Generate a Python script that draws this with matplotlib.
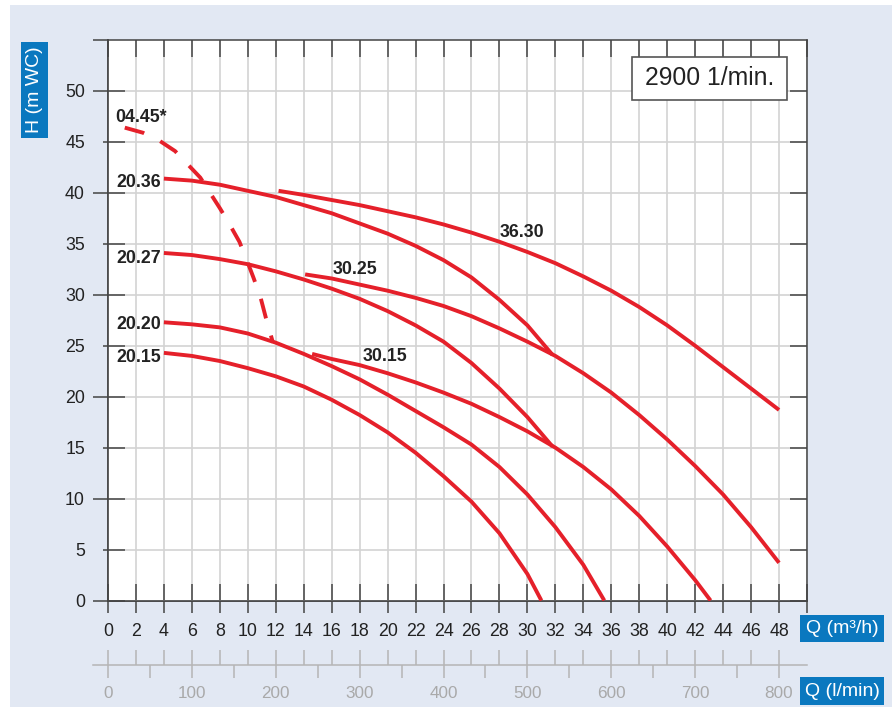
import numpy as np
import matplotlib
matplotlib.use('Agg')
import matplotlib.pyplot as plt
from matplotlib import font_manager
from matplotlib.patches import Rectangle
from matplotlib.ticker import FixedLocator, FuncFormatter

# ---------------- data (Q in m3/h, H in m WC) ----------------
q_0445 = [1.2, 2.5, 3.7, 4.8, 5.7, 6.6, 7.3, 8.0, 8.7, 9.4, 9.9, 10.4, 10.9, 11.3, 11.8]
h_0445 = [46.4, 45.9, 45.1, 44.1, 42.8, 41.5, 40.0, 38.5, 36.9, 35.2, 33.5, 31.7, 29.8, 27.7, 25.3]

q_2036 = [4, 6, 8, 10, 12, 14, 16, 18, 20, 22, 24, 26, 28, 30, 31.8]
h_2036 = [41.4, 41.2, 40.8, 40.2, 39.6, 38.8, 38.0, 37.0, 36.0, 34.8, 33.4, 31.7, 29.5, 27.0, 24.1]

q_2027 = [4, 6, 8, 10, 12, 14, 16, 18, 20, 22, 24, 26, 28, 30, 31.8]
h_2027 = [34.1, 33.9, 33.5, 33.0, 32.3, 31.5, 30.6, 29.6, 28.4, 27.0, 25.4, 23.3, 20.8, 18.0, 15.1]

q_2020 = [4, 6, 8, 10, 12, 14, 16, 18, 20, 22, 24, 26, 28, 30, 32, 34, 35.5]
h_2020 = [27.3, 27.1, 26.8, 26.2, 25.3, 24.2, 23.0, 21.7, 20.2, 18.6, 17.0, 15.3, 13.1, 10.4, 7.2, 3.5, 0.0]

q_2015 = [4, 6, 8, 10, 12, 14, 16, 18, 20, 22, 24, 26, 28, 30, 31.0]
h_2015 = [24.3, 24.0, 23.5, 22.8, 22.0, 21.0, 19.7, 18.2, 16.5, 14.5, 12.2, 9.7, 6.6, 2.6, 0.0]

q_3630 = [12.2, 14, 16, 18, 20, 22, 24, 26, 28, 30, 32, 34, 36, 38, 40, 42, 44, 46, 48]
h_3630 = [40.2, 39.8, 39.3, 38.8, 38.2, 37.6, 36.9, 36.1, 35.2, 34.2, 33.1, 31.8, 30.4, 28.8, 27.0, 25.0, 22.9, 20.8, 18.7]

q_3025 = [14.1, 16, 18, 20, 22, 24, 26, 28, 30, 32, 34, 36, 38, 40, 42, 44, 46, 48]
h_3025 = [32.0, 31.6, 31.0, 30.4, 29.7, 28.9, 27.9, 26.7, 25.4, 24.0, 22.3, 20.4, 18.2, 15.8, 13.2, 10.4, 7.2, 3.7]

q_3015 = [14.6, 16, 18, 20, 22, 24, 26, 28, 30, 32, 34, 36, 38, 40, 42, 43.1]
h_3015 = [24.2, 23.7, 23.1, 22.3, 21.4, 20.4, 19.3, 18.0, 16.6, 15.0, 13.1, 10.9, 8.3, 5.3, 2.0, 0.0]

x_ticks_m3h = list(range(0, 49, 2))
y_ticks_h = list(range(0, 51, 5))
lmin_labels = list(range(0, 801, 100))
speed_label = "2900 1/min."

# ---------------- fonts / styles ----------------
names = {f.name for f in font_manager.fontManager.ttflist}
if 'Liberation Sans Narrow' in names:
    FAM, SC = 'Liberation Sans Narrow', 1.0
else:
    FAM, SC = 'Liberation Sans', 0.85
plt.rcParams['font.family'] = [FAM, 'DejaVu Sans']

RED = '#e5202a'
BLUE = '#0a78bf'
BG = '#e2e8f3'
DARK = '#444444'
GRAYTXT = '#a9a9a9'
PX = 0.72  # points per pixel at dpi 100

W, H = 895, 713
fig = plt.figure(figsize=(W / 100, H / 100), dpi=100)
fig.patch.set_facecolor('white')
fig.patches.append(Rectangle((10 / W, 6 / H), 882 / W, 702 / H, transform=fig.transFigure,
                             facecolor=BG, edgecolor='none', zorder=-10))

# main axes: x 108..807 px, y 40..600.5 px
ax = fig.add_axes([108 / W, (H - 600.5) / H, 699 / W, 560.5 / H])
ax.set_facecolor('white')
ax.set_xlim(0, 50)
ax.set_ylim(0, 55)

ax.set_xticks(x_ticks_m3h + [50])
ax.set_xticklabels([str(v) for v in x_ticks_m3h] + [''])
ax.set_yticks(y_ticks_h)
ax.tick_params(which='major', direction='in', length=17 * PX, width=1.1, color=DARK,
               top=True, right=True, labelsize=15 * SC, labelcolor='#222222')
ax.tick_params(axis='x', pad=22 * PX)
ax.tick_params(axis='y', pad=23 * PX)
for s in ax.spines.values():
    s.set_color(DARK)
    s.set_linewidth(1.1)
ax.grid(True, color='#d3d3d3', lw=1.2)
ax.set_axisbelow(True)

# outward tick stubs
secx = ax.secondary_xaxis('bottom')
secx.set_xticks(x_ticks_m3h + [50])
secx.tick_params(direction='out', length=12 * PX, width=1.1, color=DARK, labelbottom=False)
secx.spines['bottom'].set_color(DARK)
secx.spines['bottom'].set_linewidth(1.1)

secy = ax.secondary_yaxis('left')
secy.set_yticks([0, 10, 20, 30, 40, 50, 55])
secy.yaxis.set_minor_locator(FixedLocator([5, 15, 25, 35, 45]))
secy.tick_params(which='major', direction='out', length=15 * PX, width=1.1, color=DARK, labelleft=False)
secy.tick_params(which='minor', direction='out', length=5 * PX, width=1.1, color=DARK, labelleft=False)
secy.spines['left'].set_color(DARK)
secy.spines['left'].set_linewidth(1.1)

# curves
lw = 2.8
solid = dict(color=RED, lw=lw, solid_capstyle='butt', solid_joinstyle='round', zorder=3)
for q, h in [(q_2036, h_2036), (q_2027, h_2027), (q_2020, h_2020), (q_2015, h_2015),
             (q_3630, h_3630), (q_3025, h_3025), (q_3015, h_3015)]:
    ax.plot(q, h, **solid)
ax.plot(q_0445, h_0445, color=RED, lw=lw, dashes=(5.2, 4.6), dash_capstyle='butt',
        dash_joinstyle='round', zorder=3)

# curve labels
lab = dict(fontsize=15 * SC, fontweight='bold', color='#222222', va='center', zorder=4)
ax.text(0.5, 47.4, '04.45*', ha='left', **lab)
ax.text(3.8, 41.0, '20.36', ha='right', **lab)
ax.text(3.8, 33.6, '20.27', ha='right', **lab)
ax.text(3.8, 27.05, '20.20', ha='right', **lab)
ax.text(3.8, 23.8, '20.15', ha='right', **lab)
ax.text(28.0, 36.1, '36.30', ha='left', **lab)
ax.text(16.1, 32.5, '30.25', ha='left', **lab)
ax.text(18.25, 23.9, '30.15', ha='left', **lab)

# speed box
ax.add_patch(Rectangle((0.7496, 0.893), 0.2217, 0.0767, transform=ax.transAxes,
                       facecolor='white', edgecolor='#555555', lw=1.2, zorder=5))
ax.text(0.7496 + 0.2217 / 2, 0.893 + 0.0767 / 2, speed_label, transform=ax.transAxes,
        ha='center', va='center', fontsize=21 * SC, color='#222222', zorder=6)

# l/min axis: line from 93 to 807 px at y=665
ax2 = fig.add_axes([93 / W, (H - 665) / H, 714 / W, 1e-4])
ax2.patch.set_visible(False)
for k in ['left', 'right', 'top']:
    ax2.spines[k].set_visible(False)
ax2.spines['bottom'].set_color('#b5b5b5')
ax2.spines['bottom'].set_linewidth(1.1)
to_lmin = 1000.0 / 60.0
ax2.set_xlim(-15 * 50 / 699 * to_lmin, 50 * to_lmin)
ax2.set_yticks([])
ax2.xaxis.set_major_locator(FixedLocator([v * to_lmin for v in x_ticks_m3h]))
ax2.xaxis.set_minor_locator(FixedLocator(list(range(0, 801, 50))))
ax2.xaxis.remove_overlapping_locs = False
ax2.xaxis.set_major_formatter(FuncFormatter(lambda v, p: ''))
ax2.xaxis.set_minor_formatter(FuncFormatter(
    lambda v, p: str(int(round(v))) if int(round(v)) in lmin_labels else ''))
ax2.tick_params(which='major', direction='in', length=15 * PX, width=1.1, color='#b5b5b5',
                labelbottom=False)
ax2.tick_params(which='minor', direction='out', length=13 * PX, width=1.1, color='#b5b5b5',
                labelbottom=True, labelsize=14.5 * SC, labelcolor=GRAYTXT, pad=8 * PX)

# blue unit boxes
def blue_box(x0, y0, x1, y1, txt, rot=0):
    fig.patches.append(Rectangle((x0 / W, (H - y1) / H), (x1 - x0) / W, (y1 - y0) / H,
                                 transform=fig.transFigure, facecolor=BLUE, edgecolor='none', zorder=1))
    fig.text((x0 + x1) / 2 / W, (H - (y0 + y1) / 2) / H, txt, color='white', rotation=rot,
             ha='center', va='center', fontsize=16.5 * SC, zorder=2)

blue_box(800, 615, 884, 642, 'Q (m³/h)')
blue_box(800, 677, 884, 705, 'Q (l/min)')
blue_box(21, 42, 48, 138, 'H (m WC)', rot=90)

fig.savefig('out.png', dpi=100)
